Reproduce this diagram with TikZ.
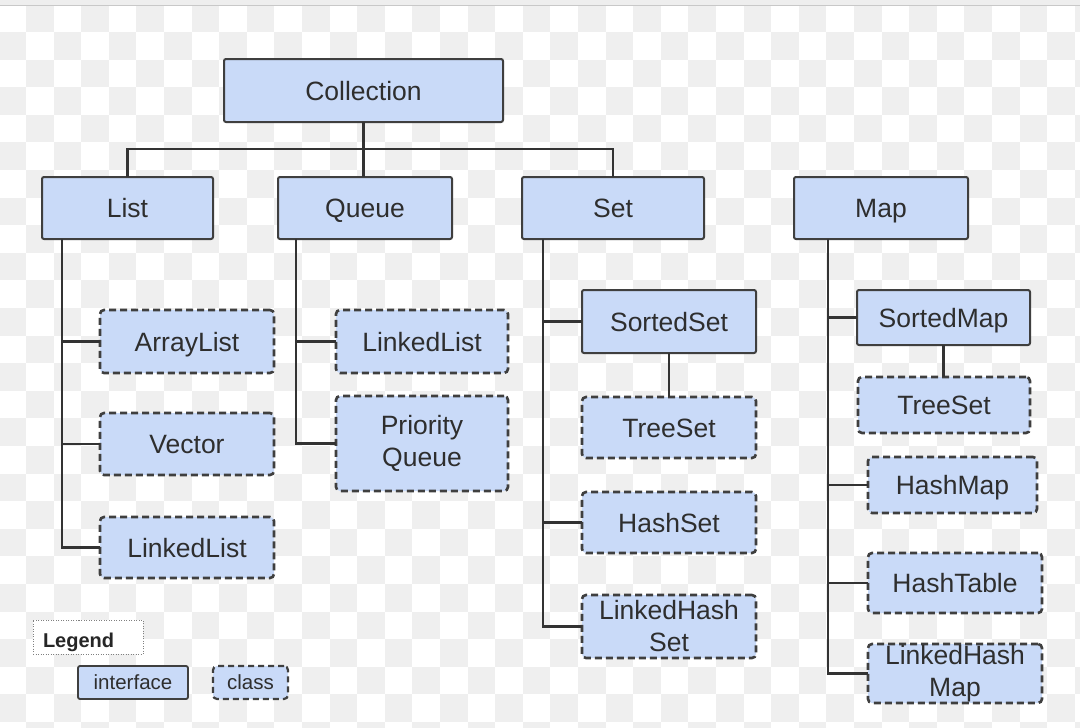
\documentclass[tikz,border=0pt]{standalone}
\usepackage{fontspec}
\setmainfont{Liberation Sans}
\definecolor{boxblue}{HTML}{C9DAF8}
\definecolor{bordercol}{HTML}{3F3F3F}
\definecolor{linecol}{HTML}{333333}
\definecolor{textcol}{HTML}{2E2E2E}
\definecolor{checkgray}{HTML}{EFEFEF}
\definecolor{topband}{HTML}{EEEEEE}
\definecolor{topline}{HTML}{C8C8C8}
\tikzset{
  iface/.style={draw=bordercol, line width=2pt, fill=boxblue, rounded corners=2pt,
    text=textcol, inner sep=0pt, outer sep=0pt, align=center,
    font=\fontsize{26.5}{32}\selectfont},
  cls/.style={iface, line width=2.6pt, dash pattern=on 7pt off 4pt, rounded corners=4pt},
  sl/.style={text height=19pt, text depth=0pt},
  ssl/.style={text height=14.7pt, text depth=0pt},
  conn/.style={draw=linecol, line width=2.6pt},
  smallface/.style={iface, line width=1.8pt, font=\fontsize{20.5}{24}\selectfont},
  smallcls/.style={cls, line width=2.2pt, dash pattern=on 6pt off 4pt, font=\fontsize{20.5}{24}\selectfont},
  legendbox/.style={draw=gray, line width=1pt, dash pattern=on 1pt off 1.5pt,
    fill=white, text=black!85, inner xsep=10pt, inner ysep=5pt, outer sep=0pt,
    text width=90pt, align=left, text height=22pt, text depth=2pt,
    font=\fontsize{20}{24}\selectfont\bfseries}
}
\begin{document}
\begin{tikzpicture}[x=1pt, y=-1pt]
\useasboundingbox (0,0) rectangle (1080,728);
% background
\fill[white] (0,0) rectangle (1080,728);
\begin{scope}
\clip (0,5) rectangle (1080,728);
\foreach \i in {1,3,...,39} {
  \foreach \j in {0,2,...,26} {
    \fill[checkgray] ({-1.6+27.6*\i},{4.4+27.6*\j}) rectangle ++(27.6,27.6);
  }
}
\foreach \i in {0,2,...,38} {
  \foreach \j in {1,3,...,25} {
    \fill[checkgray] ({-1.6+27.6*\i},{4.4+27.6*\j}) rectangle ++(27.6,27.6);
  }
}
\end{scope}
\fill[topband] (0,0) rectangle (1080,5);
\draw[topline, line width=1.2pt] (0,5.5) -- (1080,5.5);

% top level
\node[iface, sl, minimum width=279pt, minimum height=63pt] (coll) at (363.5,90.5) {Collection};
\node[iface, sl, minimum width=171pt, minimum height=62pt] (list) at (127.5,208) {List};
\node[iface, sl, minimum width=174pt, minimum height=62pt] (queue) at (365,208) {Queue};
\node[iface, sl, minimum width=182pt, minimum height=62pt] (set) at (613,208) {Set};
\node[iface, sl, minimum width=174pt, minimum height=62pt] (map) at (881,208) {Map};

% List children
\node[cls, sl, minimum width=174pt, minimum height=63pt] (arraylist) at (187,341.5) {ArrayList};
\node[cls, sl, minimum width=174pt, minimum height=62pt] (vector) at (187,444) {Vector};
\node[cls, sl, minimum width=174pt, minimum height=61pt] (llist) at (187,547.5) {LinkedList};

% Queue children
\node[cls, sl, minimum width=172pt, minimum height=63pt] (qlinked) at (422,341.5) {LinkedList};
\node[cls, minimum width=172pt, minimum height=95pt] (pq) at (422,443.5) {Priority\\Queue};

% Set children
\node[iface, sl, minimum width=174pt, minimum height=63pt] (sortedset) at (669,321.5) {SortedSet};
\node[cls, sl, minimum width=174pt, minimum height=61pt] (treeset) at (669,427.5) {TreeSet};
\node[cls, sl, minimum width=174pt, minimum height=61pt] (hashset) at (669,522.5) {HashSet};
\node[cls, minimum width=174pt, minimum height=63pt] (lhset) at (669,626.5) {LinkedHash\\Set};

% Map children
\node[iface, sl, minimum width=173pt, minimum height=55pt] (sortedmap) at (943.5,317.5) {SortedMap};
\node[cls, sl, minimum width=172pt, minimum height=56pt] (mtreeset) at (944,405) {TreeSet};
\node[cls, sl, minimum width=169pt, minimum height=56pt] (hashmap) at (952.5,485) {HashMap};
\node[cls, sl, minimum width=174pt, minimum height=60pt] (hashtable) at (955,583) {HashTable};
\node[cls, minimum width=174pt, minimum height=59pt] (lhmap) at (955,673.5) {LinkedHash\\Map};

% Legend
\node[legendbox] (legend) at (88,637) {Legend};
\node[smallface, ssl, minimum width=110pt, minimum height=33pt] (interface) at (133,682.5) {interface};
\node[smallcls, ssl, minimum width=75pt, minimum height=33pt] (class) at (250.5,682.5) {class};

% connectors
\coordinate (bus) at (363.5,149);
\draw[conn] (list.north) |- (bus) -| (set.north);
\draw[conn] (coll.south) -- (coll.south |- queue.north);

\draw[conn] ([xshift=20pt]list.south west) |- (arraylist.west);
\draw[conn] ([xshift=20pt]list.south west) |- (vector.west);
\draw[conn] ([xshift=20pt]list.south west) |- (llist.west);

\draw[conn] ([xshift=18pt]queue.south west) |- (qlinked.west);
\draw[conn] ([xshift=18pt]queue.south west) |- (pq.west);

\draw[conn] ([xshift=21pt]set.south west) |- (sortedset.west);
\draw[conn] ([xshift=21pt]set.south west) |- (hashset.west);
\draw[conn] ([xshift=21pt]set.south west) |- (lhset.west);
\draw[conn] (sortedset.south) -- (treeset.north);

\draw[conn] ([xshift=34pt]map.south west) |- (sortedmap.west);
\draw[conn] ([xshift=34pt]map.south west) |- (hashmap.west);
\draw[conn] ([xshift=34pt]map.south west) |- (hashtable.west);
\draw[conn] ([xshift=34pt]map.south west) |- (lhmap.west);
\draw[conn] (sortedmap.south) -- (sortedmap.south |- mtreeset.north);
\end{tikzpicture}
\end{document}
